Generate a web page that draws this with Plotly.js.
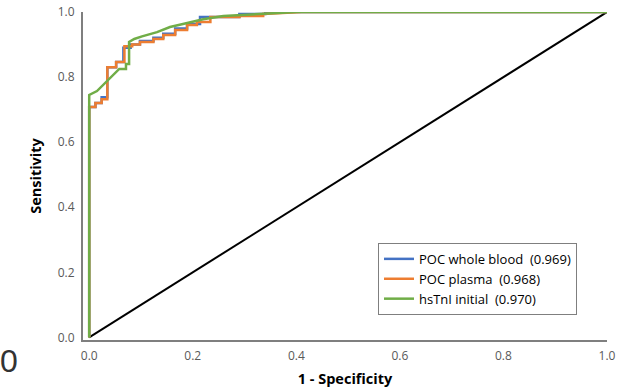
<!DOCTYPE html>
<html><head><meta charset="utf-8">
<script src="https://cdn.plot.ly/plotly-3.0.1.min.js"></script>
<style>body{margin:0;background:#fff}#c{width:629px;height:391px}</style>
</head><body><div id="c"></div>
<script>
// ROC data
const blueFpr  = [0, 0, 0.012, 0.012, 0.024, 0.024, 0.035, 0.035, 0.052, 0.052, 0.066, 0.066, 0.080, 0.080, 0.098, 0.098, 0.124, 0.124, 0.143, 0.143, 0.166, 0.166, 0.189, 0.189, 0.214, 0.214, 0.29, 0.29, 0.34, 0.34, 1.0];
const blueSens = [0, 0.708, 0.708, 0.72, 0.72, 0.738, 0.738, 0.83, 0.83, 0.846, 0.846, 0.89, 0.89, 0.90, 0.90, 0.911, 0.911, 0.921, 0.921, 0.933, 0.933, 0.949, 0.949, 0.963, 0.963, 0.985, 0.985, 0.994, 0.994, 1.0, 1.0];
const orangeFpr  = [0, 0, 0.012, 0.012, 0.024, 0.024, 0.035, 0.035, 0.052, 0.052, 0.068, 0.068, 0.083, 0.083, 0.098, 0.098, 0.124, 0.124, 0.143, 0.143, 0.166, 0.166, 0.189, 0.189, 0.208, 0.208, 0.234, 0.234, 0.29, 0.29, 0.336, 0.336, 0.41, 1.0];
const orangeSens = [0, 0.708, 0.708, 0.72, 0.72, 0.732, 0.732, 0.83, 0.83, 0.846, 0.846, 0.895, 0.895, 0.90, 0.90, 0.908, 0.908, 0.917, 0.917, 0.929, 0.929, 0.945, 0.945, 0.96, 0.96, 0.969, 0.969, 0.985, 0.985, 0.988, 0.988, 0.994, 1.0, 1.0];
const greenFpr  = [0, 0, 0.015, 0.039, 0.058, 0.071, 0.071, 0.077, 0.077, 0.087, 0.102, 0.131, 0.156, 0.181, 0.208, 0.22, 0.259, 0.324, 0.40, 1.0];
const greenSens = [0, 0.745, 0.757, 0.794, 0.825, 0.825, 0.84, 0.84, 0.908, 0.917, 0.925, 0.938, 0.954, 0.963, 0.975, 0.978, 0.988, 0.994, 1.0, 1.0];
const refLine = [0, 1];
const seriesNames = ["POC whole blood\u00a0\u00a0(0.969)", "POC plasma\u00a0\u00a0(0.968)", "hsTnI initial\u00a0\u00a0(0.970)"];
const tickVals = [0, 0.2, 0.4, 0.6, 0.8, 1.0];
const tickText = ["0.0", "0.2", "0.4", "0.6", "0.8", "1.0"];

const F = "'Open Sans', sans-serif";
const traces = [
  {x: refLine, y: refLine, mode: "lines", line: {color: "#000000", width: 2}, showlegend: false, hoverinfo: "skip"},
  {x: blueFpr, y: blueSens, name: seriesNames[0], mode: "lines", line: {color: "#4472C4", width: 2.5}},
  {x: orangeFpr, y: orangeSens, name: seriesNames[1], mode: "lines", line: {color: "#ED7D31", width: 2.5}},
  {x: greenFpr, y: greenSens, name: seriesNames[2], mode: "lines", line: {color: "#70AD47", width: 2.5}}
];
const layout = {
  width: 629, height: 391,
  margin: {l: 83, r: 22, t: 12, b: 51},
  paper_bgcolor: "#fff", plot_bgcolor: "#fff",
  font: {family: F, size: 12, color: "#595959"},
  xaxis: {range: [-0.012, 1.0], tickvals: tickVals, ticktext: tickText, showgrid: false, zeroline: false,
    showline: true, linecolor: "#7f7f7f", linewidth: 2, ticks: "", ticklen: 0, ticklabelstandoff: 4,
    tickfont: {size: 12, color: "#595959"},
    title: {text: "<b>1 - Specificity</b>", font: {size: 14.5, color: "#000"}, standoff: 10}},
  yaxis: {range: [-0.008, 1.0], tickvals: tickVals, ticktext: tickText, showgrid: false, zeroline: false,
    showline: true, linecolor: "#7f7f7f", linewidth: 2, ticks: "", ticklen: 0, ticklabelstandoff: 4,
    tickfont: {size: 12, color: "#595959"},
    title: {text: "<b>Sensitivity</b>", font: {size: 14.5, color: "#000"}, standoff: 13}},
  legend: {x: 0.563, y: 0.296, xanchor: "left", yanchor: "top", bordercolor: "#7f7f7f", borderwidth: 1,
    bgcolor: "#fff", font: {size: 13, color: "#000", family: F}, itemwidth: 30},
  annotations: [{text: "0", xref: "paper", yref: "paper", x: -0.163, y: -0.065, xanchor: "left", yanchor: "middle",
    showarrow: false, font: {size: 32, color: "#333", family: "Liberation Sans, sans-serif"}}],
  showlegend: true
};
Plotly.newPlot("c", traces, layout, {displayModeBar: false, staticPlot: true});
</script></body></html>
